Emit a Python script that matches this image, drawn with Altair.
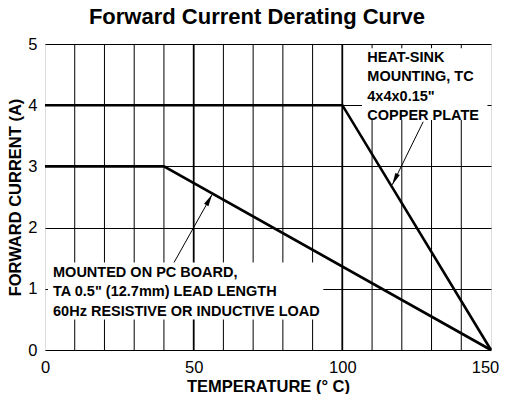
import math
import altair as alt
import pandas as pd

# ---- data ----
pc_temp = [0, 40, 150]
pc_current = [3, 3, 0]
hs_temp = [0, 100, 150]
hs_current = [4, 4, 0]

x_grid = list(range(10, 150, 10))
x_major = [50, 100]
x_labels = [0, 50, 100, 150]
y_ticks = [0, 1, 2, 3, 4, 5]

hs_label = ["HEAT-SINK", "MOUNTING, TC", '4x4x0.15"', "COPPER PLATE"]
hs_label_pos = [108.4, 4.71]
hs_box = [106.6, 148.8, 3.76, 4.93]
hs_arrow = [127.2, 3.73, 116.8, 2.70]

pc_label = ["MOUNTED ON PC BOARD,", 'TA 0.5" (12.7mm) LEAD LENGTH', "60Hz RESISTIVE OR INDUCTIVE LOAD"]
pc_label_pos = [2.7, 1.20]
pc_box = [1.0, 93.6, 0.50, 1.43]
pc_arrow = [43.4, 1.43, 56.2, 2.54]

W, H = 446, 306
FONT = "Liberation Sans"

xs = alt.Scale(domain=[0, 150], nice=False)
ys = alt.Scale(domain=[0, 5], nice=False)

lines_df = pd.DataFrame(
    {"t": pc_temp + hs_temp, "i": pc_current + hs_current,
     "s": ["pc"] * len(pc_temp) + ["hs"] * len(hs_temp)}
)

base_x = alt.X(
    "t:Q", scale=xs,
    axis=alt.Axis(
        values=x_labels, format="d", labelFlush=False, labelOverlap=False,
        labelOffset={"condition": {"test": "datum.value == 150", "value": -6}, "value": 0},
        grid=False, ticks=False, domain=False, labelPadding=9,
        labelFont=FONT, labelFontSize=16.5, labelColor="black",
        title="TEMPERATURE (° C)", titleFont=FONT, titleFontSize=16.5,
        titleFontWeight="bold", titleColor="black", titlePadding=3,
    ),
)
base_y = alt.Y(
    "i:Q", scale=ys,
    axis=alt.Axis(
        values=y_ticks, format="d", labelFlush=False, labelOverlap=False,
        grid=True, gridColor="black", gridOpacity=1, gridWidth=1,
        ticks=False, domain=False, labelPadding=8,
        labelFont=FONT, labelFontSize=16.5, labelColor="black",
        title="FORWARD CURRENT (A)", titleFont=FONT, titleFontSize=16.5,
        titleFontWeight="bold", titleColor="black", titlePadding=4,
    ),
)

grid_v = alt.Chart(pd.DataFrame({"g": x_grid})).mark_rule(
    color="black", strokeWidth=1
).encode(x=alt.X("g:Q", scale=xs))
grid_major = alt.Chart(pd.DataFrame({"g": x_major})).mark_rule(
    color="black", strokeWidth=1.7
).encode(x=alt.X("g:Q", scale=xs))

curves = alt.Chart(lines_df).mark_line(color="black", strokeWidth=2.6).encode(
    x=base_x, y=base_y, detail="s:N"
)

box_df = pd.DataFrame(
    [{"x": hs_box[0], "x2": hs_box[1], "y": hs_box[2], "y2": hs_box[3]},
     {"x": pc_box[0], "x2": pc_box[1], "y": pc_box[2], "y2": pc_box[3]}]
)
boxes = alt.Chart(box_df).mark_rect(color="white").encode(
    x=alt.X("x:Q", scale=xs), x2="x2:Q", y=alt.Y("y:Q", scale=ys), y2="y2:Q"
)

text_df = pd.DataFrame(
    [{"x": hs_label_pos[0], "y": hs_label_pos[1], "txt": "\n".join(hs_label)},
     {"x": pc_label_pos[0], "y": pc_label_pos[1], "txt": "\n".join(pc_label)}]
)
texts = alt.Chart(text_df).mark_text(
    align="left", baseline="alphabetic", font=FONT, fontSize=14.5,
    fontWeight="bold", color="black", lineBreak="\n", lineHeight=19.5,
).encode(x=alt.X("x:Q", scale=xs), y=alt.Y("y:Q", scale=ys), text="txt:N")


def angle_of(a):
    dx = (a[2] - a[0]) * W / 150.0
    dy = -(a[3] - a[1]) * H / 5.0
    return math.degrees(math.atan2(dx, -dy)) % 360


arrow_df = pd.DataFrame(
    [{"x": a[0], "y": a[1], "x2": a[2], "y2": a[3], "ang": angle_of(a)}
     for a in (hs_arrow, pc_arrow)]
)
arrow_lines = alt.Chart(arrow_df).mark_rule(color="black", strokeWidth=1).encode(
    x=alt.X("x:Q", scale=xs), y=alt.Y("y:Q", scale=ys), x2="x2:Q", y2="y2:Q"
)
heads = alt.Chart(arrow_df).mark_point(
    shape="M0,0 L0.5,2.4 L-0.5,2.4 Z", filled=True, color="black", opacity=1,
    size=100, strokeWidth=0,
).encode(
    x=alt.X("x2:Q", scale=xs), y=alt.Y("y2:Q", scale=ys),
    angle=alt.Angle("ang:Q", scale=None),
)

chart = alt.layer(curves, grid_v, grid_major, boxes, texts, arrow_lines, heads).properties(
    width=W, height=H,
    title=alt.TitleParams(
        "Forward Current Derating Curve", font=FONT, fontSize=22,
        fontWeight="bold", color="black", anchor="middle", dx=-11,
        offset=7,
    ),
    autosize=alt.AutoSizeParams(type="none"),
    padding={"left": 37, "top": 36, "right": 8, "bottom": 44},
).configure_view(stroke="black", strokeWidth=1.8).configure(background="white")

chart.save("out.html", embed_options={"renderer": "svg", "actions": False})
